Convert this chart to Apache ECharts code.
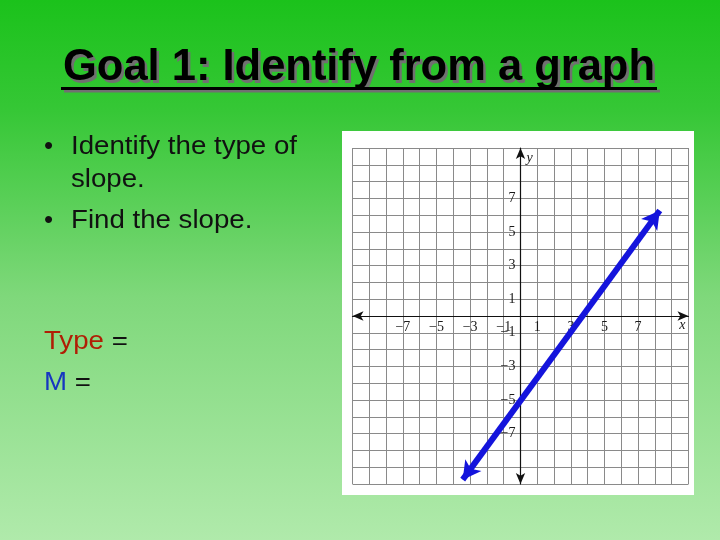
<!DOCTYPE html>
<html>
<head>
<meta charset="utf-8">
<script src="https://cdn.jsdelivr.net/npm/echarts@6/dist/echarts.min.js"></script>
<style>
  html, body { margin: 0; padding: 0; }
  #chart { width: 720px; height: 540px; }
</style>
</head>
<body>
<div id="chart"></div>
<script>
// graph data
const xRange = [-10, 10]
const yRange = [-10, 10]
const xTickLabels = [-7, -5, -3, -1, 1, 3, 5, 7]
const yTickLabels = [-7, -5, -3, -1, 1, 3, 5, 7]
// the blue line, arrow tips
const lineStart = [-3.44, -9.74]
const lineEnd = [8.29, 6.28]

// slide text
const titleText = 'Goal 1: Identify from a graph'
const bulletLines = ['Identify the type of', 'slope.', 'Find the slope.']
const bulletMarks = [true, false, true]

const chart = echarts.init(document.getElementById('chart'), null, { renderer: 'canvas' })

const measure = (text, font) => {
  const ctx = document.createElement('canvas').getContext('2d')
  ctx.font = font
  return ctx.measureText(text).width
}

const minus = v => (v < 0 ? '\u2212' + Math.abs(v) : String(v))

const gridBox = { left: 352.5, top: 148, width: 336, height: 336 }

const titleFont = 'bold 44px "Liberation Sans", Arial, sans-serif'
const titleScale = 592 / measure(titleText, titleFont)
const bodyFont = '26px "Liberation Sans", Arial, sans-serif'
const bodyScale = 226 / measure(bulletLines[0], bodyFont)

const bodyY = [147, 180, 221]
const graphics = [
  // white panel behind the graph
  { type: 'rect', z: -10, shape: { x: 342, y: 131, width: 352, height: 364 }, style: { fill: '#ffffff' } },
  // title shadow + title
  {
    type: 'text', x: 361.5, y: 70.5, scaleX: titleScale, z: 5,
    style: { text: titleText, font: titleFont, fill: '#707070', align: 'center', verticalAlign: 'middle' }
  },
  {
    type: 'text', x: 359, y: 68, scaleX: titleScale, z: 6,
    style: { text: titleText, font: titleFont, fill: '#000000', align: 'center', verticalAlign: 'middle' }
  },
  { type: 'rect', z: 5, shape: { x: 64, y: 89.5, width: 596, height: 3 }, style: { fill: '#707070' } },
  { type: 'rect', z: 6, shape: { x: 61, y: 87, width: 596, height: 3 }, style: { fill: '#000000' } }
]

bulletLines.forEach((line, i) => {
  if (bulletMarks[i]) {
    graphics.push({
      type: 'text', x: 44, y: bodyY[i], z: 6,
      style: { text: '\u2022', font: bodyFont, fill: '#111', verticalAlign: 'middle' }
    })
  }
  graphics.push({
    type: 'text', x: 71, y: bodyY[i], scaleX: bodyScale, z: 6,
    style: { text: line, font: bodyFont, fill: '#111', verticalAlign: 'middle' }
  })
})

graphics.push({
  type: 'text', x: 44, y: 342, scaleX: bodyScale, z: 6,
  style: {
    text: '{r|Type} =', font: bodyFont, fill: '#111', verticalAlign: 'middle',
    rich: { r: { fill: '#b01e05', font: bodyFont } }
  }
})
graphics.push({
  type: 'text', x: 44, y: 383, scaleX: bodyScale, z: 6,
  style: {
    text: '{b|M} =', font: bodyFont, fill: '#111', verticalAlign: 'middle',
    rich: { b: { fill: '#1636c0', font: bodyFont } }
  }
})

const labelFont = {
  fontFamily: '"Liberation Serif", "DejaVu Serif", serif',
  fontSize: 14,
  color: '#1a1a1a'
}

// axes sit in the middle of the grid (both ranges are symmetric)
const axisCommon = {
  type: 'value',
  interval: 1,
  z: 1,
  axisLine: {
    onZero: false,
    symbol: ['arrow', 'arrow'],
    symbolSize: [7, 11],
    lineStyle: { color: '#111', width: 1.2 }
  },
  axisTick: { show: false },
  splitLine: { show: true, lineStyle: { color: '#8a8a8a', width: 1 } },
  nameTextStyle: { ...labelFont, fontStyle: 'italic', fontSize: 14 }
}

const option = {
  animation: false,
  backgroundColor: {
    type: 'linear', x: 0, y: 0, x2: 0, y2: 1,
    colorStops: [
      { offset: 0, color: '#1bc21b' },
      { offset: 0.2, color: '#35c735' },
      { offset: 0.55, color: '#7fd87b' },
      { offset: 1, color: '#b0eaab' }
    ]
  },
  grid: gridBox,
  graphic: { elements: graphics },
  xAxis: {
    ...axisCommon,
    position: 'bottom',
    offset: -gridBox.height / 2,
    min: xRange[0],
    max: xRange[1],
    name: 'x',
    nameLocation: 'end',
    nameGap: -3,
    nameTextStyle: { ...axisCommon.nameTextStyle, align: 'right', verticalAlign: 'top', padding: [2, 0, 0, 0] },
    axisLabel: {
      ...labelFont,
      margin: 4,
      formatter: v => (xTickLabels.includes(v) ? minus(v) : '')
    }
  },
  yAxis: {
    ...axisCommon,
    position: 'left',
    offset: -gridBox.width / 2,
    min: yRange[0],
    max: yRange[1],
    name: 'y',
    nameLocation: 'end',
    nameGap: -10,
    nameTextStyle: { ...axisCommon.nameTextStyle, align: 'left', verticalAlign: 'middle', padding: [0, 0, 0, 6] },
    axisLabel: {
      ...labelFont,
      margin: 5,
      formatter: v => (yTickLabels.includes(v) ? minus(v) : '')
    }
  },
  series: [{
    type: 'line',
    z: 3,
    data: [],
    markLine: {
      silent: true,
      symbol: ['arrow', 'arrow'],
      symbolSize: [15, 18],
      label: { show: false },
      lineStyle: { color: '#1414dc', width: 6, type: 'solid' },
      data: [[{ coord: lineStart }, { coord: lineEnd }]]
    }
  }]
}

chart.setOption(option)
</script>
</body>
</html>
